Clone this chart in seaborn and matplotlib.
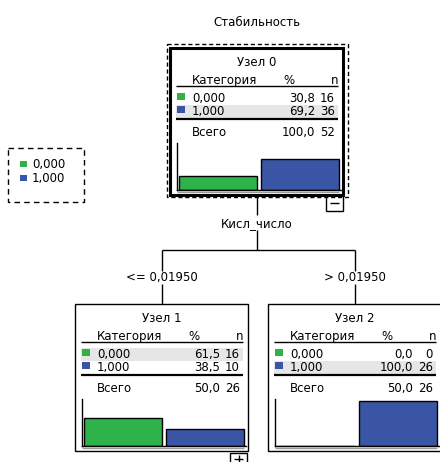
import matplotlib
matplotlib.use("Agg")
import matplotlib.pyplot as plt
import matplotlib.patches as mpatches
import seaborn as sns

categories = ["0,000", "1,000"]
cat_colors = ["#2eb34b", "#3a55a4"]
target_name = "Стабильность"
split_var = "Кисл_число"
split_labels = ["<= 0,01950", "> 0,01950"]
node_names = ["Узел 0", "Узел 1", "Узел 2"]
node_pct = [[30.8, 69.2], [61.5, 38.5], [0.0, 100.0]]
node_n = [[16, 36], [16, 10], [0, 26]]
total_pct = [100.0, 50.0, 50.0]
total_n = [52, 26, 26]

W, H = 440, 462
sns.set_theme(style="white")
plt.rcParams["font.family"] = ["DejaVu Sans"]
FS = 8.5
BASE = 4  # baseline sits this many px below the visual middle of the line


def txt(x, y, s, ha="left"):
    ax.text(x, y + BASE, s, ha=ha, va="baseline", fontsize=FS, color="black")


fig = plt.figure(figsize=(W / 100, H / 100), dpi=100)
ax = fig.add_axes([0, 0, 1, 1])
ax.set_xlim(0, W)
ax.set_ylim(H, 0)
ax.axis("off")


def fmt(v):
    return f"{v:.1f}".replace(".", ",")


def px_axes(x0, y0, x1, y1):
    return fig.add_axes([x0 / W, 1 - y1 / H, (x1 - x0) / W, (y1 - y0) / H])


def line(x0, y0, x1, y1, **kw):
    kw.setdefault("color", "black")
    kw.setdefault("lw", 1)
    ax.plot([x0, x1], [y0, y1], solid_capstyle="butt", **kw)


def draw_node(i, L, T, selected=False):
    BW, BH = 173, 147
    if selected:
        ax.add_patch(mpatches.Rectangle((L - 3, T - 4), BW + 8, BH + 6, fill=False,
                                        ls=(0, (3, 2)), lw=1, ec="black"))
        ax.add_patch(mpatches.Rectangle((L, T), BW, BH, fill=False, lw=2.2, ec="black"))
    else:
        ax.add_patch(mpatches.Rectangle((L, T), BW, BH, fill=False, lw=1, ec="black"))
    pct, n = node_pct[i], node_n[i]
    hi = max(range(len(pct)), key=lambda k: pct[k])
    txt(L + 87, T + 14, node_names[i], ha="center")
    txt(L + 22, T + 32, "Категория")
    txt(L + 119, T + 32, "%", ha="center")
    txt(L + 168, T + 32, "n", ha="right")
    line(L + 6, T + 38, L + 168, T + 38)
    rows_y = [T + 50, T + 63]
    for k, y in enumerate(rows_y):
        if k == hi:
            ax.add_patch(mpatches.Rectangle((L + 6, y - 6.5), 162, 13, color="#e6e6e6", lw=0))
        ax.add_patch(mpatches.Rectangle((L + 7, y - 5), 8, 7, color=cat_colors[k], lw=0))
        txt(L + 22, y, categories[k])
        txt(L + 145, y, fmt(pct[k]), ha="right")
        txt(L + 165, y, str(n[k]), ha="right")
    line(L + 6, T + 71, L + 168, T + 71, lw=1.6)
    txt(L + 22, T + 84, "Всего")
    txt(L + 145, T + 84, fmt(total_pct[i]), ha="right")
    txt(L + 165, T + 84, str(total_n[i]), ha="right")

    # bar chart of category shares
    bax = px_axes(L + 7, T + 95, L + 171, T + 142)
    sns.barplot(x=categories, y=pct, hue=categories, palette=cat_colors, ax=bax,
                width=0.96, edgecolor="black", linewidth=1, legend=False, saturation=1)
    bax.set_xlim(-0.5, 1.5)
    bax.set_ylim(0, 104)
    bax.set_xticks([])
    bax.set_yticks([])
    bax.set_xlabel("")
    bax.set_ylabel("")
    bax.patch.set_alpha(0)
    for s in ["top", "right"]:
        bax.spines[s].set_visible(False)
    for s in ["left", "bottom"]:
        bax.spines[s].set_color("black")
        bax.spines[s].set_linewidth(1)
    line(L + 7, T + 144, L + 169, T + 144, color="#9a9a9a", lw=1)


# title
txt(257, 22, target_name, ha="center")

node_pos = [(170, 48), (75, 304), (268, 304)]
draw_node(0, *node_pos[0], selected=True)
draw_node(1, *node_pos[1])
draw_node(2, *node_pos[2])

# collapse / expand markers
ax.add_patch(mpatches.Rectangle((326, 195), 17, 16, fill=False, lw=1, ec="black"))
line(330, 203, 339, 203)
ax.add_patch(mpatches.Rectangle((230, 453), 17, 16, fill=False, lw=1, ec="black"))
line(234, 459, 243, 459)
line(238.5, 455, 238.5, 463)

# connectors
cx0 = node_pos[0][0] + 87
cx1 = node_pos[1][0] + 87
cx2 = node_pos[2][0] + 87
line(cx0, 195, cx0, 215)
txt(cx0, 223, split_var, ha="center")
line(cx0, 230, cx0, 250)
line(cx1, 250, cx2, 250)
for cx, lab in zip([cx1, cx2], split_labels):
    line(cx, 250, cx, 271)
    txt(cx, 277, lab, ha="center")
    line(cx, 284, cx, 304)

# legend
ax.add_patch(mpatches.Rectangle((8, 148), 76, 54, fill=False, ls=(0, (4, 3)), lw=1, ec="black"))
for k, y in enumerate([164, 178]):
    ax.add_patch(mpatches.Rectangle((20, y - 3.5), 6.5, 6.5, color=cat_colors[k], lw=0))
    txt(32, y, categories[k])

fig.savefig("out.png", dpi=100)
